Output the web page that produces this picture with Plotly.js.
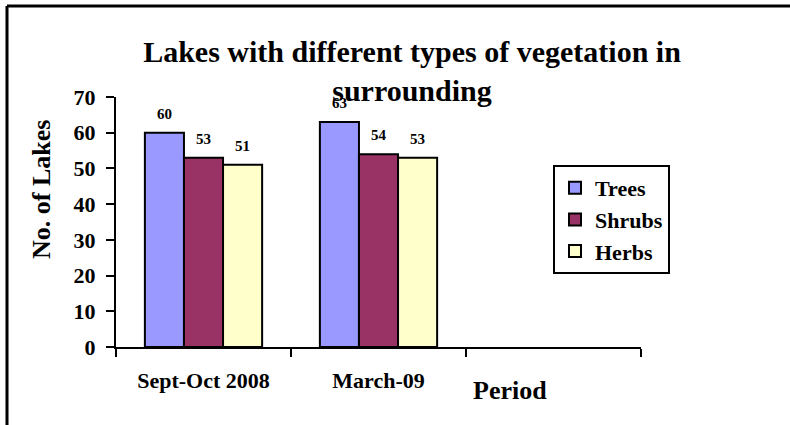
<!DOCTYPE html>
<html>
<head>
<meta charset="utf-8">
<script src="https://cdn.plot.ly/plotly-3.0.1.min.js"></script>
<style>
  html, body { margin: 0; padding: 0; background: #fff; }
  #chart { width: 790px; height: 425px; }
</style>
</head>
<body>
<div id="chart"></div>
<script>
// ---- data ----
var categories = ['Sept-Oct 2008', 'March-09', ' '];
var seriesNames = ['Trees', 'Shrubs', 'Herbs'];
var trees  = [60, 63, null];
var shrubs = [53, 54, null];
var herbs  = [51, 53, null];
var yTicks = [0, 10, 20, 30, 40, 50, 60, 70];

var chartTitle = 'Lakes with different types of vegetation in<br>surrounding';
var yTitle = 'No. of Lakes';
var xTitle = 'Period';

// ---- styling ----
var FONT = '"Liberation Serif", "Times New Roman", serif';
var colors = ['#9999FF', '#993366', '#FFFFCC'];
var seriesValues = [trees, shrubs, herbs];

var L = 116, R = 641, T = 97, B = 347;
var W = 790, H = 425;
var BARGAP = 0.33;
function px2x(p) { return (p - L) / (R - L); }
function py2y(p) { return (B - p) / (B - T); }

var traces = seriesValues.map(function (vals, i) {
  return {
    type: 'bar',
    name: seriesNames[i],
    x: categories,
    y: vals,
    legendgroup: 'g' + i,
    marker: { color: colors[i], line: { color: '#000', width: 2 } },
    hoverinfo: 'x+y+name'
  };
});

// value labels above each bar, derived from the data arrays
var catPx = (R - L) / categories.length;
var barPx = catPx * (1 - BARGAP) / seriesValues.length;
var labelAnns = [];
seriesValues.forEach(function (vals, i) {
  vals.forEach(function (v, j) {
    if (v === null) return;
    labelAnns.push({
      x: categories[j], y: v, xref: 'x', yref: 'y',
      text: String(v), showarrow: false,
      xanchor: 'center', yanchor: 'bottom',
      xshift: (i - (seriesValues.length - 1) / 2) * barPx,
      yshift: 9,
      font: { family: FONT, size: 15, color: '#000', weight: 'bold' }
    });
  });
});

var layout = {
  width: W, height: H,
  margin: { l: L, r: W - R, t: T, b: H - B, pad: 0 },
  paper_bgcolor: '#fff',
  plot_bgcolor: '#fff',
  font: { family: FONT, color: '#000', weight: 'bold' },
  barmode: 'group',
  bargap: BARGAP,
  bargroupgap: 0,
  showlegend: true,
  title: {
    text: chartTitle,
    font: { family: FONT, size: 30, color: '#000', weight: 'bold' },
    x: 412 / W, xanchor: 'center',
    y: 1 - 62 / H, yanchor: 'top', yref: 'container'
  },
  xaxis: {
    type: 'category',
    categoryorder: 'array',
    categoryarray: categories,
    range: [-0.5, 2.5],
    showline: true, linecolor: '#000', linewidth: 2,
    ticks: 'outside', tickson: 'boundaries', ticklen: 8, tickwidth: 2, tickcolor: '#000',
    ticklabelstandoff: 13,
    tickfont: { family: FONT, size: 22, color: '#000', weight: 'bold' },
    showgrid: false, zeroline: false, fixedrange: true
  },
  yaxis: {
    range: [0, 70],
    tickvals: yTicks,
    showline: true, linecolor: '#000', linewidth: 2,
    ticks: 'outside', ticklen: 8, tickwidth: 2, tickcolor: '#000',
    ticklabelstandoff: 6,
    tickfont: { family: FONT, size: 22, color: '#000', weight: 'bold' },
    showgrid: false, zeroline: false, fixedrange: true
  },
  legend: {
    x: px2x(553), y: py2y(165), xanchor: 'left', yanchor: 'top',
    bgcolor: '#fff', bordercolor: '#000', borderwidth: 2,
    font: { family: FONT, size: 22, color: '#000', weight: 'bold' },
    traceorder: 'normal',
    tracegroupgap: 6,
    itemwidth: 30
  },
  annotations: labelAnns.concat([{
    text: xTitle, xref: 'paper', yref: 'paper',
    x: px2x(510), y: py2y(390), xanchor: 'center', yanchor: 'middle',
    showarrow: false,
    font: { family: FONT, size: 26, color: '#000', weight: 'bold' }
  }, {
    text: yTitle, xref: 'paper', yref: 'paper', textangle: -90,
    x: px2x(41), y: py2y(190), xanchor: 'center', yanchor: 'middle',
    showarrow: false,
    font: { family: FONT, size: 26, color: '#000', weight: 'bold' }
  }]),
  shapes: [
    { type: 'line', xref: 'paper', yref: 'paper', x0: px2x(7), x1: px2x(800), y0: py2y(6), y1: py2y(6), line: { color: '#000', width: 3 } },
    { type: 'line', xref: 'paper', yref: 'paper', x0: px2x(7), x1: px2x(7), y0: py2y(6), y1: py2y(440), line: { color: '#000', width: 3 } }
  ]
};

Plotly.newPlot('chart', traces, layout, { displayModeBar: false, staticPlot: true });
</script>
</body>
</html>
